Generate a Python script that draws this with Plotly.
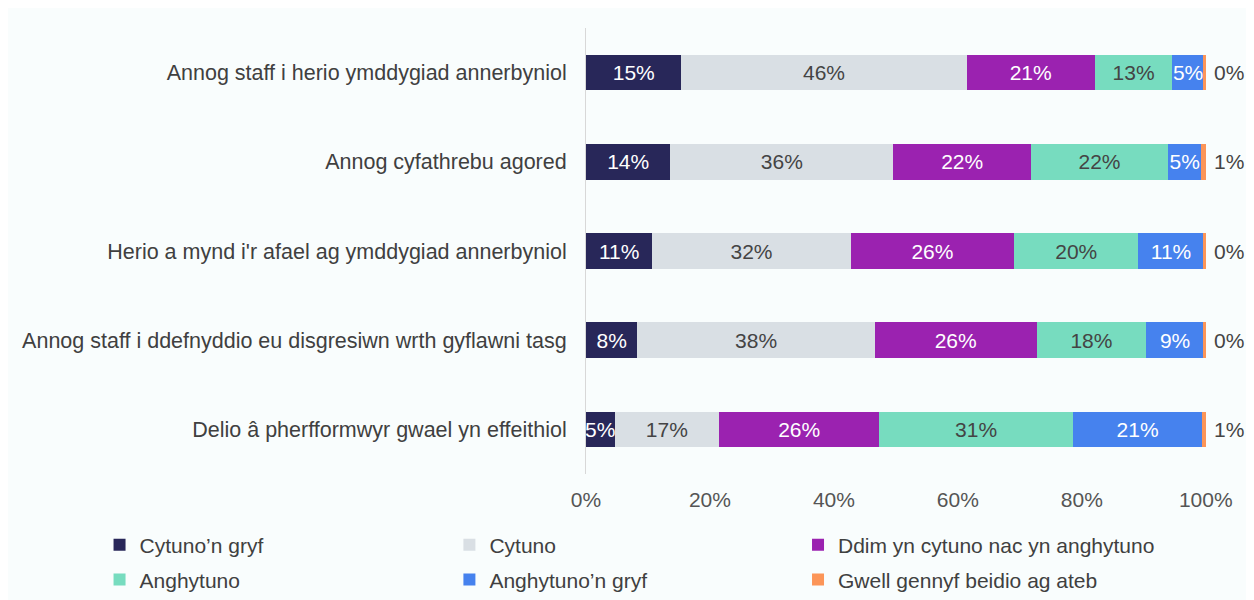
import plotly.graph_objects as go

categories = [
    "Annog staff i herio ymddygiad annerbyniol",
    "Annog cyfathrebu agored",
    "Herio a mynd i'r afael ag ymddygiad annerbyniol",
    "Annog staff i ddefnyddio eu disgresiwn wrth gyflawni tasg",
    "Delio â pherfformwyr gwael yn effeithiol",
]

series_names = [
    "Cytuno’n gryf",
    "Cytuno",
    "Ddim yn cytuno nac yn anghytuno",
    "Anghytuno",
    "Anghytuno’n gryf",
    "Gwell gennyf beidio ag ateb",
]

cytuno_gryf = [15.4, 13.6, 10.7, 8.3, 4.6]
cytuno = [46.0, 36.0, 32.0, 38.3, 16.9]
ddim = [20.7, 22.2, 26.4, 26.1, 25.8]
anghytuno = [12.5, 22.1, 20.0, 17.7, 31.3]
anghytuno_gryf = [5.1, 5.4, 10.6, 9.3, 20.8]
gwell = [0.3, 0.7, 0.3, 0.3, 0.6]

series_values = [cytuno_gryf, cytuno, ddim, anghytuno, anghytuno_gryf, gwell]
colors = ["#282759", "#d9dfe4", "#9b22b0", "#77dcbf", "#4682ee", "#fc9558"]
text_colors = ["#ffffff", "#444444", "#ffffff", "#444444", "#ffffff", "#444444"]

x_tick_vals = [0, 20, 40, 60, 80, 100]
x_tick_text = ["0%", "20%", "40%", "60%", "80%", "100%"]

FONT = "Liberation Sans, Arial, sans-serif"
FS = 21

# legend placement (container fractions): 3 columns x 2 rows
legend_x = [0.073, 0.352, 0.630]
legend_y = [0.105, 0.047]

fig = go.Figure()
n = len(series_names)
for i, (name, vals) in enumerate(zip(series_names, series_values)):
    last = i == n - 1
    lg = "legend" if i == 0 else f"legend{i + 1}"
    fig.add_trace(go.Bar(
        y=categories,
        x=vals,
        name=name,
        orientation="h",
        marker=dict(color=colors[i], line=dict(width=0)),
        texttemplate="" if last else "%{x:.0f}%",
        textposition="inside",
        insidetextanchor="middle",
        textangle=0,
        constraintext="none",
        cliponaxis=False,
        textfont=dict(family=FONT, size=FS, color=text_colors[i]),
        hoverinfo="skip",
        legend=lg,
    ))

# labels of the last (tiny) segment, placed just beyond the bar end
totals = [sum(s[j] for s in series_values) for j in range(len(categories))]
for j, cat in enumerate(categories):
    fig.add_annotation(
        x=totals[j], y=cat, text=f"{gwell[j]:.0f}%",
        showarrow=False, xanchor="left", xshift=6,
        font=dict(family=FONT, size=FS, color="#444444"),
    )

legends = {}
for i in range(n):
    key = "legend" if i == 0 else f"legend{i + 1}"
    legends[key] = dict(
        orientation="h",
        xref="container", yref="container",
        x=legend_x[i % 3], y=legend_y[i // 3],
        xanchor="left", yanchor="middle",
        font=dict(family=FONT, size=FS, color="#404040"),
        bgcolor="rgba(0,0,0,0)",
        borderwidth=0,
    )

fig.update_layout(
    barmode="stack",
    bargap=0.6,
    width=1254,
    height=600,
    margin=dict(l=578, r=55, t=20, b=134),
    paper_bgcolor="#f9fdfd",
    plot_bgcolor="#f9fdfd",
    font=dict(family=FONT, size=FS, color="#404040"),
    showlegend=True,
    xaxis=dict(
        range=[0, 100.2],
        tickvals=x_tick_vals,
        ticktext=x_tick_text,
        showgrid=False,
        zeroline=False,
        showline=False,
        tickfont=dict(family=FONT, size=FS, color="#555555"),
        ticklabelstandoff=11,
    ),
    yaxis=dict(
        autorange="reversed",
        showgrid=False,
        zeroline=False,
        showline=True,
        linecolor="#d8d8d8",
        linewidth=1,
        tickfont=dict(family=FONT, size=21.5, color="#404040"),
        ticklabelstandoff=14,
    ),
    **legends,
)

fig.write_html("out.html")
